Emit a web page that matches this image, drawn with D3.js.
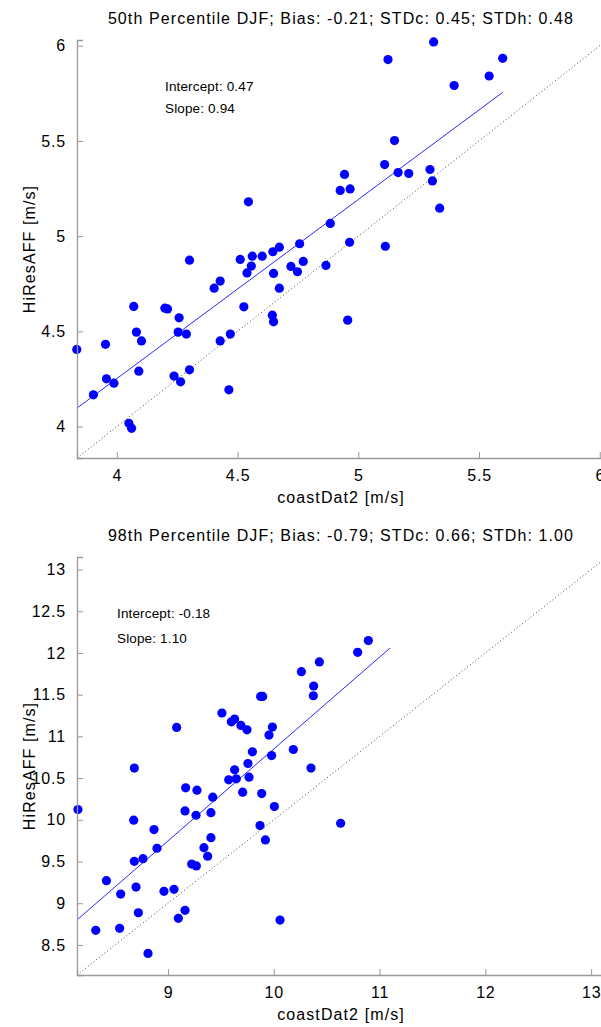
<!DOCTYPE html>
<html>
<head>
<meta charset="utf-8">
<script src="https://cdn.jsdelivr.net/npm/d3@7"></script>
<style>
  body { margin: 0; background: #fff; }
  text { font-family: "Liberation Sans", Arial, Helvetica, sans-serif; fill: #000; }
</style>
</head>
<body>
<svg width="601" height="1027"></svg>
<script>
// 50th percentile DJF: coastDat2 (x) vs HiResAFF (y)
var x50 = [3.834,3.903,3.953,3.957,3.988,4.050,4.061,4.070,4.081,4.091,4.102,4.199,4.210,4.237,4.254,4.258,4.264,4.288,4.301,4.301,
           4.403,4.428,4.428,4.464,4.470,4.511,4.526,4.539,4.545,4.557,4.561,4.602,4.644,4.646,4.649,4.649,4.673,4.673,4.721,4.748,
           4.757,4.772,4.866,4.884,4.925,4.943,4.956,4.964,4.966,5.109,5.112,5.123,5.150,5.165,5.209,5.297,5.307,5.312,5.337,5.397,
           5.542,5.598];
var y50 = [4.405,4.167,4.432,4.251,4.228,4.017,3.991,4.631,4.496,4.291,4.450,4.622,4.618,4.265,4.496,4.571,4.235,4.486,4.874,4.298,
           4.727,4.764,4.450,4.193,4.486,4.878,4.629,4.807,5.180,4.843,4.895,4.895,4.585,4.918,4.804,4.550,4.942,4.727,4.841,4.813,
           4.960,4.867,4.846,5.067,5.240,5.324,4.559,4.968,5.248,5.376,4.947,5.927,5.502,5.334,5.329,5.350,5.290,6.020,5.147,5.791,
           5.841,5.934];

// 98th percentile DJF
var x98 = [8.149,8.317,8.418,8.543,8.553,8.676,8.682,8.682,8.698,8.720,8.764,8.811,8.868,8.896,8.962,9.057,9.082,9.098,9.161,9.161,
           9.167,9.224,9.265,9.268,9.274,9.340,9.375,9.406,9.406,9.423,9.510,9.574,9.599,9.630,9.630,9.646,9.690,9.706,9.747,9.756,
           9.766,9.798,9.870,9.876,9.895,9.886,9.921,9.955,9.980,9.987,10.006,10.059,10.185,10.261,10.352,10.374,10.377,10.431,10.632,10.793,
           10.894];
var y98 = [10.123,8.675,9.270,8.699,9.110,9.996,10.620,9.503,9.194,8.886,9.534,8.399,9.883,9.659,9.143,9.167,11.107,8.819,10.107,8.915,
           10.383,9.470,10.055,9.447,10.355,9.666,9.563,10.086,9.786,10.271,11.280,10.479,11.175,11.208,10.599,10.491,11.131,10.331,11.079,10.675,
           10.511,10.815,9.931,11.479,11.479,10.315,9.759,11.016,10.770,11.112,10.159,8.798,10.843,11.776,10.620,11.487,11.604,11.892,9.959,12.007,
           12.148];

// axis limits (same for x and y) and ticks
var lim50 = [3.835, 6.03];
var lim98 = [8.14, 13.15];
var xticks50 = [4, 4.5, 5, 5.5, 6];
var yticks50 = [4, 4.5, 5, 5.5, 6];
var xticks98 = [9, 10, 11, 12, 13];
var yticks98 = [8.5, 9, 9.5, 10, 10.5, 11, 11.5, 12, 12.5, 13];

// fitted line end points as drawn
var fitX50 = [3.835, 5.598];
var fitY50 = [4.097, 5.755];
var fitX98 = [8.14, 11.1];
var fitY98 = [8.80, 12.06];

var titles = ["50th Percentile DJF; Bias: -0.21; STDc: 0.45; STDh: 0.48",
              "98th Percentile DJF; Bias: -0.79; STDc: 0.66; STDh: 1.00"];
var stats = [["Intercept: 0.47", "Slope: 0.94"],
             ["Intercept: -0.18", "Slope: 1.10"]];

var panels = [
  {x: x50, y: y50, lim: lim50, xt: xticks50, yt: yticks50, fx: fitX50, fy: fitY50,
   title: titles[0], stats: stats[0], top: 40, sx: 165, sy: [91, 113]},
  {x: x98, y: y98, lim: lim98, xt: xticks98, yt: yticks98, fx: fitX98, fy: fitY98,
   title: titles[1], stats: stats[1], top: 557, sx: 117, sy: [618, 642.5]}
];

var svg = d3.select("svg");
var left = 77, w = 530, h = 418;
var axisColor = "#9a9a9a";

panels.forEach(function(p) {
  var g = svg.append("g").attr("transform", "translate(" + left + "," + p.top + ")");

  var x = d3.scaleLinear().domain(p.lim).range([0, w]);
  var y = d3.scaleLinear().domain(p.lim).range([h, 0]);

  // 1:1 reference line
  g.append("line")
    .attr("x1", x(p.lim[0])).attr("y1", y(p.lim[0]))
    .attr("x2", x(p.lim[1])).attr("y2", y(p.lim[1]))
    .attr("stroke", "#444")
    .attr("stroke-width", 1)
    .attr("stroke-dasharray", "1,2.5");

  // regression line
  g.append("line")
    .attr("x1", x(p.fx[0])).attr("y1", y(p.fy[0]))
    .attr("x2", x(p.fx[1])).attr("y2", y(p.fy[1]))
    .attr("stroke", "#2a2aff")
    .attr("stroke-width", 1);

  g.append("g")
    .selectAll("circle")
    .data(d3.range(p.x.length))
    .enter().append("circle")
    .attr("cx", function(i) { return x(p.x[i]); })
    .attr("cy", function(i) { return y(p.y[i]); })
    .attr("r", 4.6)
    .attr("fill", "#0000ff");

  // axes: ticks point inward
  var xAxis = g.append("g")
    .attr("transform", "translate(0," + h + ")")
    .call(d3.axisBottom(x).tickValues(p.xt).tickSize(-6).tickPadding(12)
          .tickFormat(function(d) { return d3.format("")(d); }));
  var yAxis = g.append("g")
    .call(d3.axisLeft(y).tickValues(p.yt).tickSize(-6).tickPadding(11)
          .tickFormat(function(d) { return d3.format("")(d); }));

  [xAxis, yAxis].forEach(function(a) {
    a.select(".domain").attr("stroke", axisColor).attr("stroke-width", 1.3);
    a.selectAll(".tick line").attr("stroke", axisColor);
    a.selectAll(".tick text")
      .attr("fill", "#000")
      .style("font-size", "16px")
      .style("letter-spacing", "0.8px")
      .style("font-family", "'Liberation Sans', Arial, sans-serif");
  });
  xAxis.selectAll(".tick text").attr("dy", "0.71em");

  g.append("text")
    .attr("x", 264)
    .attr("y", -16)
    .attr("text-anchor", "middle")
    .style("font-size", "16px")
    .style("letter-spacing", "1.1px")
    .text(p.title);

  g.append("text")
    .attr("x", 264)
    .attr("y", h + 45)
    .attr("text-anchor", "middle")
    .style("font-size", "16px")
    .style("letter-spacing", "1.1px")
    .text("coastDat2 [m/s]");

  g.append("text")
    .attr("transform", "translate(-42," + (h / 2) + ") rotate(-90)")
    .attr("text-anchor", "middle")
    .style("font-size", "16px")
    .style("letter-spacing", "1.1px")
    .text("HiResAFF [m/s]");

  p.stats.forEach(function(s, i) {
    svg.append("text")
      .attr("x", p.sx)
      .attr("y", p.sy[i])
      .style("font-size", "13.5px")
      .style("letter-spacing", "0.15px")
      .text(s);
  });
});
</script>
</body>
</html>
